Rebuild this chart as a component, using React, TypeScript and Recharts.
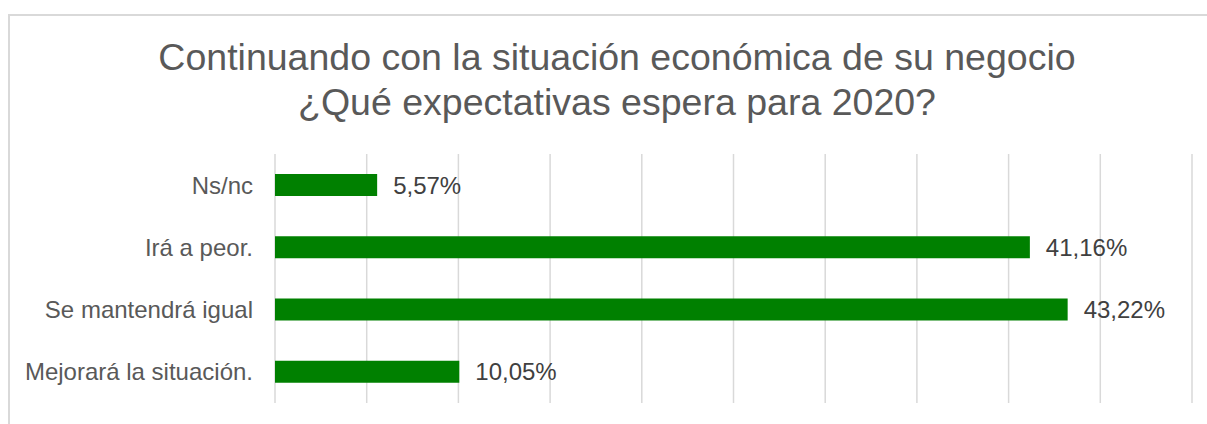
import { BarChart, Bar, XAxis, YAxis, CartesianGrid, LabelList } from 'recharts'

const categories = ['Ns/nc', 'Irá a peor.', 'Se mantendrá igual', 'Mejorará la situación.']
const shares = [5.57, 41.16, 43.22, 10.05]
const xTicks = [0, 5, 10, 15, 20, 25, 30, 35, 40, 45, 50]
const titleLines = ['Continuando con la situación económica de su negocio', '¿Qué expectativas espera para 2020?']

const data = categories.map((name, i) => ({ name, value: shares[i] }))

const font = '"Liberation Sans", Arial, sans-serif'
const fmt = (v: number) => `${v.toFixed(2).replace('.', ',')}%`

export default function App() {
  return (
    <div style={{ position: 'absolute', left: 0, top: 0, width: 1207, height: 424, overflow: 'hidden', background: '#fff', fontFamily: font }}>
      <div style={{ position: 'absolute', left: 8, top: 14, width: 1260, height: 440, border: '2px solid #d9d9d9', boxSizing: 'border-box' }} />
      <div style={{ position: 'absolute', left: 0, top: 35, width: 1234, textAlign: 'center', fontSize: 37.5, lineHeight: '45px', color: '#595959' }}>
        {titleLines.map((t) => <div key={t}>{t}</div>)}
      </div>
      <div style={{ position: 'absolute', left: 0, top: 0 }}>
        <BarChart width={1207} height={424} data={data} layout="vertical" margin={{ top: 154, right: 15, bottom: 21, left: 0 }}>
          <CartesianGrid stroke="#d9d9d9" strokeWidth={1.5} horizontal={false} />
          <XAxis type="number" domain={[0, 50]} ticks={xTicks} hide />
          <YAxis
            type="category"
            dataKey="name"
            width={275}
            axisLine={false}
            tickLine={false}
            tickSize={0}
            tickMargin={22}
            tick={{ fontSize: 24, fill: '#595959', fontFamily: font }}
          />
          <Bar dataKey="value" fill="#008000" barSize={22} isAnimationActive={false}>
            <LabelList dataKey="value" position="right" offset={16} formatter={(v: any) => fmt(Number(v))} style={{ fontSize: 24, fill: '#404040', fontFamily: font }} />
          </Bar>
        </BarChart>
      </div>
    </div>
  )
}
